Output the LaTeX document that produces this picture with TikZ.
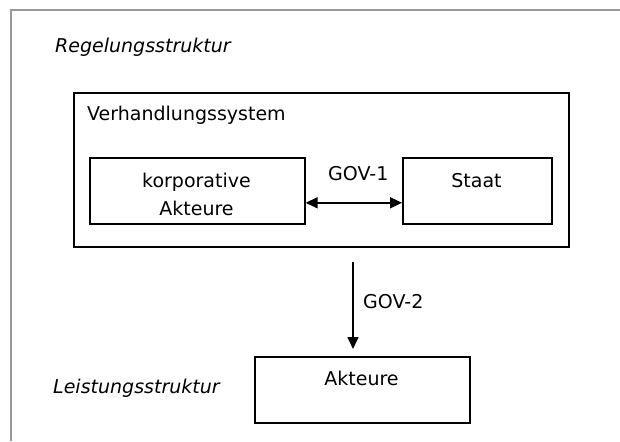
\documentclass[tikz,border=0pt]{standalone}
\usepackage{fontspec}
\setmainfont{DejaVu Sans}
\usetikzlibrary{arrows.meta,positioning}

\begin{document}
\begin{tikzpicture}[x=1pt,y=-1pt,
		box/.style={draw,line width=1.6pt,inner sep=0pt,anchor=north west},
		txt/.style={font=\fontsize{19}{28}\selectfont,inner sep=0pt,anchor=base west},
		conn/.style={line width=1.6pt,-{Triangle[length=12pt,width=11pt]}},
		dconn/.style={line width=1.6pt,{Triangle[length=12pt,width=11pt]}-{Triangle[length=12pt,width=11pt]}}]
		\useasboundingbox (0,0) rectangle (620,441);
		% frame
		\draw[black!40,line width=1.5pt] (620,10) -- (11,10) -- (11,441);
		% Regelungsstruktur
		\node[txt,font=\fontsize{19}{28}\selectfont\itshape] (regel) at (55,53) {Regelungsstruktur};
		\node[box,minimum width=495pt,minimum height=154pt] (verh) at (73,92) {};
		\node[txt] (verhtxt) at (87,121) {Verhandlungssystem};
		\node[box,minimum width=215pt,minimum height=66pt] (korp) at (89,157) {};
		\node[txt,anchor=base] (korptxt) at (196.5,187) {korporative};
		\node[txt,anchor=base] (korptxt2) at (196.5,215) {Akteure};
		\node[box,minimum width=149pt,minimum height=66pt] (staat) at (402,157) {};
		\node[txt,anchor=base] (staattxt) at (476.5,187) {Staat};
		\draw[dconn] ([yshift=-12pt]korp.east) -- ([yshift=-12pt]staat.west);
		\node[txt] (gov1) at (328,180) {GOV-1};
		% Leistungsstruktur
		\node[txt,font=\fontsize{19}{28}\selectfont\itshape] (leist) at (53,393) {Leistungsstruktur};
		\node[box,minimum width=215pt,minimum height=66pt] (akt) at (254,356) {};
		\node[txt,anchor=base] (akttxt) at (361.5,385) {Akteure};
		\coordinate (govtop) at (353,262);
		\draw[conn,shorten >=7pt] (govtop) -- (govtop |- akt.north);
		\node[txt] (gov2) at (363,308) {GOV-2};
	\end{tikzpicture}
\end{document}
